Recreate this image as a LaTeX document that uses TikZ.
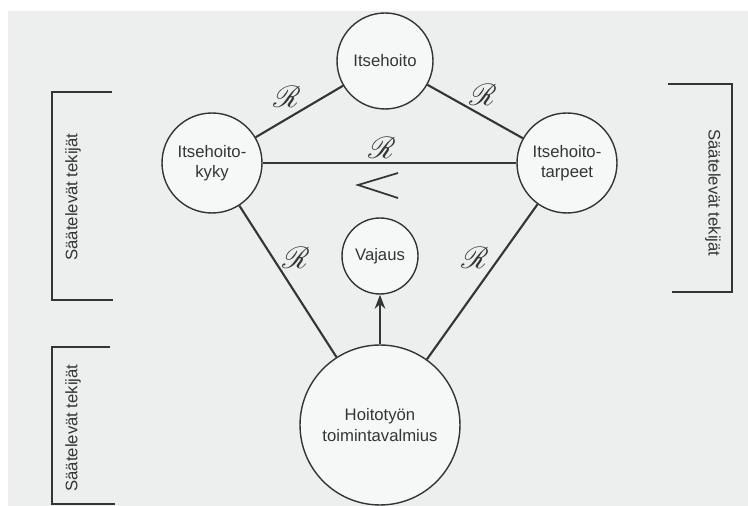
\documentclass[tikz,border=0pt]{standalone}
\usepackage{fontspec}
\setmainfont{Liberation Sans}
\usepackage{mathrsfs}
\usetikzlibrary{arrows.meta}
\definecolor{paper}{HTML}{ECEFEE}
\definecolor{ink}{HTML}{353535}

\begin{document}
\begin{tikzpicture}[x=0.02cm, y=-0.02cm,
  circ/.style={draw=ink, circle, line width=0.8pt, fill=white!55!paper,
    text=ink, align=center, inner sep=0pt,
    font=\fontsize{9.5}{11.5}\selectfont},
  link/.style={draw=ink, line width=1.2pt},
  rel/.style={text=ink, font=\LARGE},
  brk/.style={draw=ink, line width=0.9pt},
  side/.style={text=ink, font=\fontsize{9.5}{11}\selectfont}]
  \useasboundingbox (0,0) rectangle (748,506);
  \fill[white] (0,0) rectangle (748,506);
  \fill[paper] (8,11) rectangle (748,506);
  % Circles
  \node[circ, minimum size=1.92cm] (self)  at (385,61)  {Itsehoito};
  \node[circ, minimum size=2.0cm]  (abil)  at (212,163) {Itsehoito-\\kyky};
  \node[circ, minimum size=2.0cm]  (need)  at (567,163) {Itsehoito-\\tarpeet};
  \node[circ, minimum size=1.52cm] (lack)  at (380,256) {Vajaus};
  \node[circ, minimum size=3.2cm]  (nurse) at (380,425) {Hoitotyön\\toimintavalmius};
  % Links
  \draw[link] (abil) -- (self);
  \draw[link] (self) -- (need);
  \draw[link] (abil) -- (need);
  \draw[link] (abil) -- (nurse);
  \draw[link] (need) -- (nurse);
  \draw[link, line width=1.4pt, -{Stealth[length=8pt, width=6pt]}] (nurse) -- (lack);
  % Relation labels
  \node[rel] (r1) at (287,97)  {$\mathscr{R}$};
  \node[rel] (r2) at (483,95)  {$\mathscr{R}$};
  \node[rel] (r3) at (382,148) {$\mathscr{R}$};
  \node[rel] (r4) at (296,258) {$\mathscr{R}$};
  \node[rel] (r5) at (475,258) {$\mathscr{R}$};
  % Less-than sign
  \draw[ink, line width=1pt] (398,173) -- (358,185) -- (398,198);
  % Brackets
  \draw[brk] (112,92) -- (52,92) -- (52,300) -- (113,300);
  \draw[brk] (110,347) -- (52,347) -- (52,504) -- (115,504);
  \draw[brk] (668,84) -- (732,84) -- (732,292) -- (672,292);
  \node[side, rotate=90]  (f1) at (73,197) {Säätelevät tekijät};
  \node[side, rotate=90]  (f2) at (73,428) {Säätelevät tekijät};
  \node[side, rotate=-90] (f3) at (713,193) {Säätelevät tekijät};
\end{tikzpicture}
\end{document}
